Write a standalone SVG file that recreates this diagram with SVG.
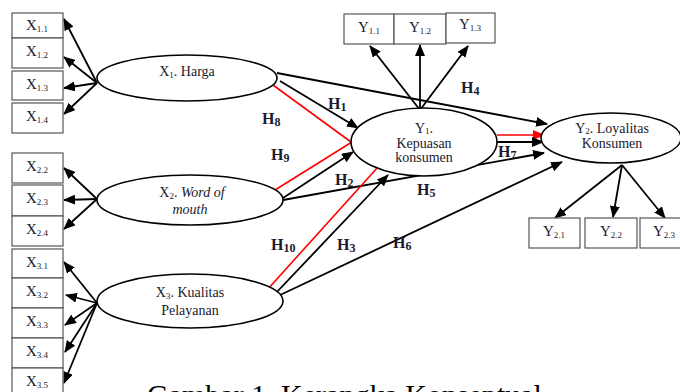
<svg xmlns="http://www.w3.org/2000/svg" width="680" height="392" viewBox="0 0 680 392">
<style>
  .box{fill:#fff;stroke:#555;stroke-width:1.2}
  .ell{fill:#fff;stroke:#000;stroke-width:1.6}
  .lbl{font-family:"Liberation Serif","Times New Roman",serif;font-size:15px;fill:#1a1a2e;text-anchor:middle}
  .sub{font-size:9px}
  .nt{font-family:"Liberation Serif","Times New Roman",serif;font-size:14px;fill:#1a1a2e;text-anchor:middle}
  .ns{font-size:9px}
  .h{font-family:"Liberation Serif","Times New Roman",serif;font-size:16px;font-weight:bold;fill:#1a1a2e}
  .hs{font-size:12px}
  .ln{stroke:#000;stroke-width:1.8;fill:none}
  .rd{stroke:#ff0000;stroke-width:1.6;fill:none}
  .cap{font-family:"Liberation Serif","Times New Roman",serif;font-size:30px;fill:#000}
</style>
<defs>
  <marker id="ah" markerUnits="userSpaceOnUse" markerWidth="12" markerHeight="10" refX="11" refY="5" orient="auto">
    <path d="M0,0 L12,5 L0,10 Z" fill="#000"/>
  </marker>
  <marker id="ahr" markerUnits="userSpaceOnUse" markerWidth="12" markerHeight="10" refX="11" refY="5" orient="auto">
    <path d="M0,0 L12,5 L0,10 Z" fill="#ff0000"/>
  </marker>
</defs>
<rect width="680" height="392" fill="#fff"/>

<g id="connectors">
  <line class="ln" x1="97" y1="83" x2="64" y2="19" marker-end="url(#ah)"/>
  <line class="ln" x1="97" y1="83" x2="64" y2="57" marker-end="url(#ah)"/>
  <line class="ln" x1="97" y1="83" x2="64" y2="88" marker-end="url(#ah)"/>
  <line class="ln" x1="97" y1="83" x2="64" y2="114" marker-end="url(#ah)"/>
  <line class="ln" x1="97" y1="199" x2="64" y2="168" marker-end="url(#ah)"/>
  <line class="ln" x1="97" y1="199" x2="64" y2="200" marker-end="url(#ah)"/>
  <line class="ln" x1="97" y1="199" x2="64" y2="229" marker-end="url(#ah)"/>
  <line class="ln" x1="97" y1="303" x2="64" y2="262" marker-end="url(#ah)"/>
  <line class="ln" x1="97" y1="303" x2="66" y2="295" marker-end="url(#ah)"/>
  <line class="ln" x1="97" y1="303" x2="65" y2="325" marker-end="url(#ah)"/>
  <line class="ln" x1="97" y1="303" x2="65" y2="352" marker-end="url(#ah)"/>
  <line class="ln" x1="97" y1="303" x2="64" y2="383" marker-end="url(#ah)"/>
  <line class="ln" x1="420" y1="110" x2="370" y2="46" marker-end="url(#ah)"/>
  <line class="ln" x1="420" y1="110" x2="420" y2="45" marker-end="url(#ah)"/>
  <line class="ln" x1="420" y1="110" x2="468" y2="46" marker-end="url(#ah)"/>
  <line class="ln" x1="622" y1="165" x2="555" y2="218" marker-end="url(#ah)"/>
  <line class="ln" x1="622" y1="165" x2="613" y2="217" marker-end="url(#ah)"/>
  <line class="ln" x1="622" y1="165" x2="665" y2="218" marker-end="url(#ah)"/>
  <line class="ln" x1="277" y1="73" x2="547" y2="124" marker-end="url(#ah)"/>
  <line class="ln" x1="280" y1="81" x2="358" y2="128" marker-end="url(#ah)"/>
  <line class="rd" x1="273" y1="85" x2="351" y2="142"/>
  <line class="rd" x1="275" y1="190" x2="352" y2="142"/>
  <line class="ln" x1="283" y1="198" x2="353" y2="152" marker-end="url(#ah)"/>
  <line class="ln" x1="283" y1="200" x2="544" y2="153" marker-end="url(#ah)"/>
  <line class="rd" x1="267" y1="290" x2="378" y2="167"/>
  <line class="ln" x1="275" y1="294" x2="388" y2="175" marker-end="url(#ah)"/>
  <line class="ln" x1="278" y1="296" x2="562" y2="162" marker-end="url(#ah)"/>
  <line class="rd" x1="497" y1="135" x2="544" y2="135" marker-end="url(#ahr)"/>
  <line class="ln" x1="497" y1="142" x2="543" y2="142" marker-end="url(#ah)"/>
</g>

<g id="x1-indicators">
  <rect class="box" x="12" y="13" width="51" height="25"/>
  <text class="lbl" x="37" y="30">X<tspan class="sub" dy="2">1.1</tspan></text>
  <rect class="box" x="12" y="38" width="51" height="30"/>
  <text class="lbl" x="37" y="56">X<tspan class="sub" dy="2">1.2</tspan></text>
  <rect class="box" x="12" y="71" width="51" height="29"/>
  <text class="lbl" x="37" y="89">X<tspan class="sub" dy="2">1.3</tspan></text>
  <rect class="box" x="12" y="103" width="51" height="30"/>
  <text class="lbl" x="37" y="121">X<tspan class="sub" dy="2">1.4</tspan></text>
</g>

<g id="x2-indicators">
  <rect class="box" x="12" y="153" width="51" height="30"/>
  <text class="lbl" x="37" y="171">X<tspan class="sub" dy="2">2.2</tspan></text>
  <rect class="box" x="12" y="185" width="51" height="31"/>
  <text class="lbl" x="37" y="203">X<tspan class="sub" dy="2">2.3</tspan></text>
  <rect class="box" x="12" y="216" width="51" height="30"/>
  <text class="lbl" x="37" y="234">X<tspan class="sub" dy="2">2.4</tspan></text>
</g>

<g id="x3-indicators">
  <rect class="box" x="12" y="249" width="51" height="29"/>
  <text class="lbl" x="37" y="267">X<tspan class="sub" dy="2">3.1</tspan></text>
  <rect class="box" x="12" y="278" width="51" height="30"/>
  <text class="lbl" x="37" y="296">X<tspan class="sub" dy="2">3.2</tspan></text>
  <rect class="box" x="12" y="308" width="51" height="30"/>
  <text class="lbl" x="37" y="326">X<tspan class="sub" dy="2">3.3</tspan></text>
  <rect class="box" x="12" y="338" width="51" height="30"/>
  <text class="lbl" x="37" y="356">X<tspan class="sub" dy="2">3.4</tspan></text>
  <rect class="box" x="12" y="368" width="51" height="30"/>
  <text class="lbl" x="37" y="386">X<tspan class="sub" dy="2">3.5</tspan></text>
</g>

<g id="x1">
  <ellipse class="ell" cx="187" cy="78" rx="90" ry="23"/>
  <text class="nt" x="187" y="76">X<tspan class="ns" dy="2">1</tspan><tspan dy="-2">. Harga</tspan></text>
</g>

<g id="x2">
  <ellipse class="ell" cx="190" cy="200" rx="93" ry="25"/>
  <text class="nt" x="192" y="197">X<tspan class="ns" dy="2">2</tspan><tspan dy="-2">. </tspan><tspan font-style="italic">Word of</tspan></text>
  <text class="nt" x="190" y="214" font-style="italic">mouth</text>
</g>

<g id="x3">
  <ellipse class="ell" cx="190" cy="301" rx="93" ry="27"/>
  <text class="nt" x="190" y="297">X<tspan class="ns" dy="2">3</tspan><tspan dy="-2">. Kualitas</tspan></text>
  <text class="nt" x="190" y="315">Pelayanan</text>
</g>

<g id="y1-indicators">
  <rect class="box" x="344" y="14" width="50" height="30"/>
  <text class="lbl" x="369" y="32">Y<tspan class="sub" dy="2">1.1</tspan></text>
  <rect class="box" x="394" y="14" width="52" height="30"/>
  <text class="lbl" x="420" y="32">Y<tspan class="sub" dy="2">1.2</tspan></text>
  <rect class="box" x="446" y="13" width="49" height="30"/>
  <text class="lbl" x="470" y="29">Y<tspan class="sub" dy="2">1.3</tspan></text>
</g>

<g id="y1">
  <ellipse class="ell" cx="424" cy="142" rx="73" ry="34"/>
  <text class="nt" x="424" y="133" font-size="12.5">Y<tspan class="ns" dy="1">1</tspan><tspan dy="-1">.</tspan></text>
  <text class="nt" x="424" y="148" font-size="12.5">Kepuasan</text>
  <text class="nt" x="424" y="162" font-size="12.5">konsumen</text>
</g>

<g id="y2">
  <ellipse class="ell" cx="611" cy="138" rx="70" ry="25"/>
  <text class="nt" x="612" y="133" font-size="12.5">Y<tspan class="ns" dy="1">2</tspan><tspan dy="-1">. Loyalitas</tspan></text>
  <text class="nt" x="612" y="148" font-size="12.5">Konsumen</text>
</g>

<g id="y2-indicators">
  <rect class="box" x="529" y="218" width="51" height="30"/>
  <text class="lbl" x="554" y="236">Y<tspan class="sub" dy="2">2.1</tspan></text>
  <rect class="box" x="585" y="218" width="52" height="30"/>
  <text class="lbl" x="611" y="236">Y<tspan class="sub" dy="2">2.2</tspan></text>
  <rect class="box" x="640" y="218" width="50" height="30"/>
  <text class="lbl" x="664" y="236">Y<tspan class="sub" dy="2">2.3</tspan></text>
</g>

<g id="labels">
  <text class="h" x="328" y="109">H<tspan class="hs" dy="2">1</tspan></text>
  <text class="h" x="335" y="185">H<tspan class="hs" dy="2">2</tspan></text>
  <text class="h" x="337" y="250">H<tspan class="hs" dy="2">3</tspan></text>
  <text class="h" x="461" y="93">H<tspan class="hs" dy="2">4</tspan></text>
  <text class="h" x="417" y="195">H<tspan class="hs" dy="2">5</tspan></text>
  <text class="h" x="393" y="248">H<tspan class="hs" dy="2">6</tspan></text>
  <text class="h" x="498" y="157">H<tspan class="hs" dy="2">7</tspan></text>
  <text class="h" x="262" y="124">H<tspan class="hs" dy="2">8</tspan></text>
  <text class="h" x="271" y="160">H<tspan class="hs" dy="2">9</tspan></text>
  <text class="h" x="271" y="250">H<tspan class="hs" dy="2">10</tspan></text>
</g>

<text class="cap" x="147" y="405">Gambar 1. Kerangka Konseptual</text>
</svg>
